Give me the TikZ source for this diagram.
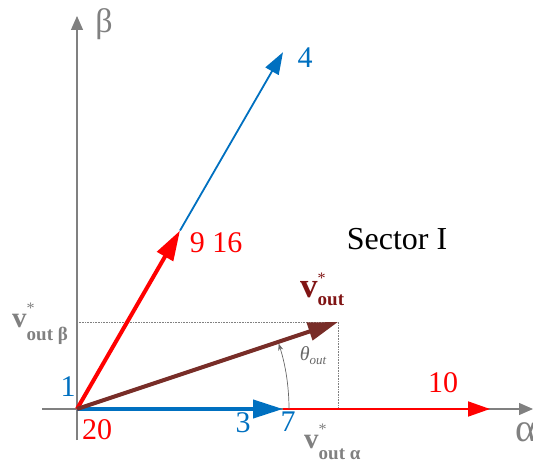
\documentclass[tikz,border=0pt]{standalone}
\usepackage{fontspec}
\setmainfont{Liberation Serif}
\usetikzlibrary{arrows.meta}
\definecolor{vblue}{RGB}{0,112,192}
\definecolor{vred}{RGB}{255,0,0}
\definecolor{vbrown}{RGB}{120,45,40}
\definecolor{vlab}{RGB}{128,20,20}
\definecolor{axgray}{RGB}{128,128,128}
\newcommand{\voutlab}[5]{{\bfseries\fontsize{#1}{#1}\selectfont v\rlap{\raisebox{#4}{\mdseries\fontsize{16}{16}\selectfont *}}\raisebox{-#5}{\fontsize{#2}{#2}\selectfont #3}}}
\begin{document}
\begin{tikzpicture}[x=1pt,y=-1pt,
  axis/.style={draw=axgray, line width=1.2pt, -{Triangle[length=14pt,width=12pt]}},
  thickvec/.style={line width=4pt, -{Triangle[length=30pt,width=18pt]}},
  thinvec/.style={line width=1.8pt, -{Triangle[length=22pt,width=15pt]}},
  guide/.style={draw=axgray, densely dotted, line width=0.6pt},
  num/.style={font=\fontsize{30}{30}\selectfont, inner sep=0pt}]
\useasboundingbox (0,0) rectangle (533,462);
\coordinate (O) at (77,409);
\coordinate (P3) at (283,409);
\coordinate (P10) at (490,409);
\coordinate (P9) at (180,230.6);
\coordinate (P4) at (283,52.2);
\coordinate (V) at (338,322);
\coordinate (Vb) at (77,322);
\coordinate (Va) at (338,409);
\coordinate (Al0) at (42,409);
\coordinate (Al1) at (533,409);
\coordinate (Be0) at (77,440);
\coordinate (Be1) at (77,16);
% axes
\draw[axis] (Al0) -- (Al1);
\draw[axis] (Be0) -- (Be1);
% guides
\draw[guide] (Vb) -- (V) -- (Va);
% thin vectors
\draw[thinvec, vred] (P3) -- (P10);
\draw[thinvec, vblue] (P9) -- (P4);
% angle arc
\draw[axgray!80!black, line width=0.7pt, -{Stealth[length=7pt,width=5pt]}] (289,409) arc[start angle=0, end angle=18, radius=212pt];
% thick vectors
\draw[thickvec, vred] (O) -- (P9);
\draw[thickvec, vblue] (O) -- (P3);
\draw[thickvec, vbrown] (O) -- (V);
% labels
\node[text=axgray, font=\fontsize{34}{34}\selectfont, inner sep=0pt] (beta) at (104,24) {β};
\node[text=axgray, font=\fontsize{40}{40}\selectfont, inner sep=0pt] (alpha) at (526,432) {α};
\node[num, text=vblue] (l4) at (305,58) {4};
\node[num, text=vred] (l916) at (216,243) {9 16};
\node[font=\fontsize{32}{32}\selectfont, inner sep=0pt] (sec) at (397,239) {Sector I};
\node[num, text=vblue] (l1) at (68,387) {1};
\node[num, text=vred] (l20) at (97,430) {20};
\node[num, text=vblue] (l3) at (243,423) {3};
\node[num, text=vblue] (l7) at (288,422) {7};
\node[num, text=vred] (l10) at (443,383) {10};
\node[text=vlab, anchor=base west, inner sep=0pt] (lv) at (300,298) {\voutlab{35}{19}{out}{14pt}{8pt}};
\node[text=axgray, anchor=base west, inner sep=0pt] (lvb) at (12,328) {\voutlab{29}{19}{out β}{14pt}{13pt}};
\node[text=axgray, anchor=base west, inner sep=0pt] (lva) at (304,448) {\voutlab{29}{19}{out α}{14pt}{11pt}};
\node[text=axgray!80!black, font=\fontsize{20}{20}\selectfont\itshape, inner sep=0pt] (th) at (313,356) {θ\raisebox{-4pt}{\fontsize{13}{13}\selectfont out}};
\end{tikzpicture}
\end{document}
